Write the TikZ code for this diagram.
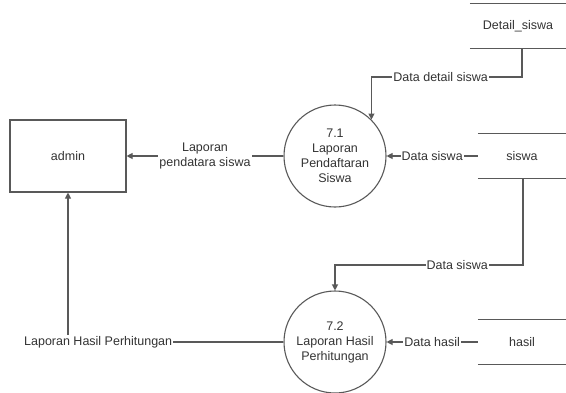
\documentclass[tikz,border=0pt]{standalone}
\usepackage{fontspec}
\setmainfont{Liberation Sans}
\usetikzlibrary{arrows.meta}
\begin{document}
\begin{tikzpicture}[x=1pt,y=-1pt,
  every node/.style={font=\fontsize{12.5}{15}\selectfont, text=black!80},
  line/.style={draw=black!65, line width=1.1pt},
  arr/.style={line, -{Triangle[length=6pt,width=6pt]}},
  entity/.style={line, rectangle, minimum width=116pt, minimum height=72pt, inner sep=0pt},
  process/.style={line, circle, minimum size=102pt, inner sep=0pt, align=center},
  store/.style={rectangle, minimum height=44pt, inner sep=0pt},
  lbl/.style={fill=white, inner sep=1pt, align=center}]
\useasboundingbox (0,0) rectangle (566,392);

% external entity and processes
\node[entity] (admin) at (68,156) {admin};
\node[process] (p71) at (335,156) {7.1\\Laporan\\Pendaftaran\\Siswa};
\node[process] (p72) at (335,342) {7.2\\Laporan Hasil\\Perhitungan};

% data stores (open on the right)
\node[store, minimum width=96pt] (ds1) at (518,26) {Detail\_siswa};
\node[store, minimum width=88pt] (ds2) at (522,156) {siswa};
\node[store, minimum width=88pt] (ds3) at (522,342) {hasil};
\foreach \s in {ds1,ds2,ds3}{
  \draw[line] (\s.north west) -- (\s.north east);
  \draw[line] (\s.south west) -- (\s.south east);
}

% bends of the flows
\coordinate (b1) at (522,77);
\coordinate (b2) at (523,265);

% data flows
\draw[arr] (ds1.south -| b1) -- (b1) -| node[lbl, pos=0.27] {Data detail siswa} (p71.45);
\draw[arr] (ds2.west) -- node[lbl] {Data siswa} (p71.east);
\draw[arr] (ds2.south -| b2) -- (b2) -| node[lbl, pos=0.175] {Data siswa} (p72.north);
\draw[arr] (ds3.west) -- node[lbl] {Data hasil} (p72.east);
\draw[arr] (p71.west) -- node[lbl] {Laporan\\pendatara siswa} (admin.east);
\draw[arr] (p72.west) -| node[lbl, pos=0.43] {Laporan Hasil Perhitungan} (admin.south);
\end{tikzpicture}
\end{document}
